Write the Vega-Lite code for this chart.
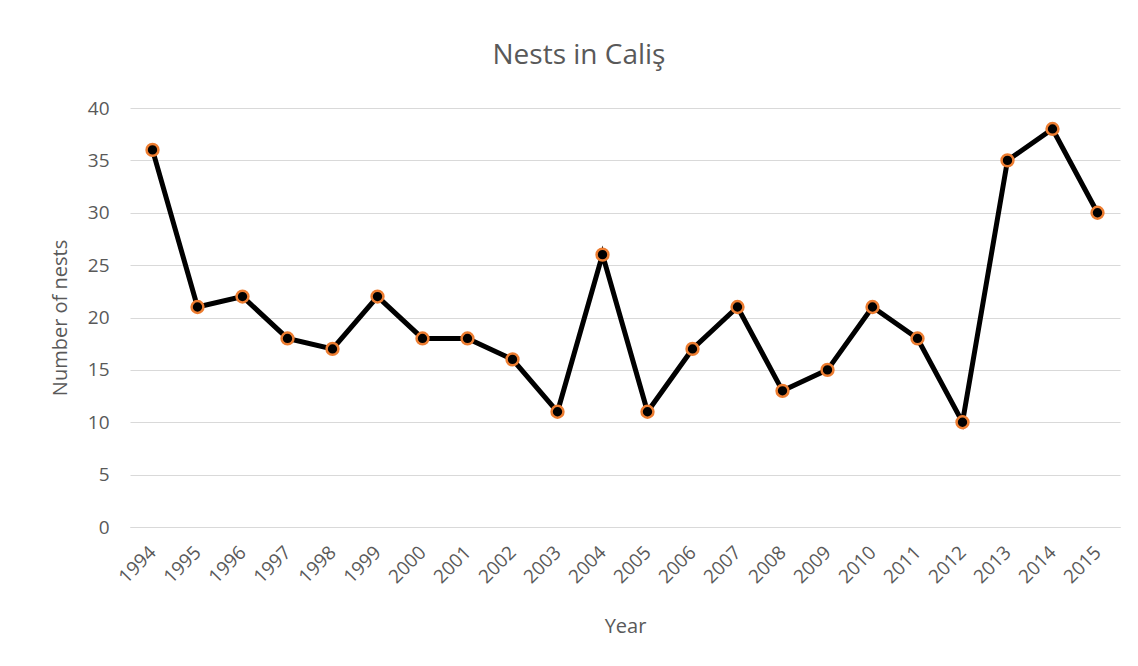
{
  "$schema": "https://vega.github.io/schema/vega-lite/v6.json",
  "width": 990,
  "height": 419,
  "autosize": {"type": "none"},
  "padding": {"left": 130, "top": 108, "right": 18, "bottom": 139},
  "background": "white",
  "title": {
    "text": "Nests in Caliş",
    "frame": "group",
    "anchor": "middle",
    "dx": -46,
    "offset": 7,
    "baseline": "alphabetic",
    "font": "Open Sans",
    "fontSize": 28,
    "fontWeight": "normal",
    "color": "#595959"
  },
  "config": {
    "view": {"stroke": null},
    "font": "Open Sans"
  },
  "data": {
    "values": [
      {"Year": "1994", "Nests": 36},
      {"Year": "1995", "Nests": 21},
      {"Year": "1996", "Nests": 22},
      {"Year": "1997", "Nests": 18},
      {"Year": "1998", "Nests": 17},
      {"Year": "1999", "Nests": 22},
      {"Year": "2000", "Nests": 18},
      {"Year": "2001", "Nests": 18},
      {"Year": "2002", "Nests": 16},
      {"Year": "2003", "Nests": 11},
      {"Year": "2004", "Nests": 26},
      {"Year": "2005", "Nests": 11},
      {"Year": "2006", "Nests": 17},
      {"Year": "2007", "Nests": 21},
      {"Year": "2008", "Nests": 13},
      {"Year": "2009", "Nests": 15},
      {"Year": "2010", "Nests": 21},
      {"Year": "2011", "Nests": 18},
      {"Year": "2012", "Nests": 10},
      {"Year": "2013", "Nests": 35},
      {"Year": "2014", "Nests": 38},
      {"Year": "2015", "Nests": 30}
    ]
  },
  "encoding": {
    "x": {
      "field": "Year",
      "type": "ordinal",
      "scale": {"type": "point", "padding": 0.5},
      "axis": {
        "title": "Year",
        "titleFont": "Open Sans",
        "titleFontSize": 20,
        "titleFontWeight": "normal",
        "titleColor": "#595959",
        "titlePadding": 30,
        "labelAngle": -45,
        "labelAlign": "right",
        "labelBaseline": "middle",
        "labelFont": "Open Sans",
        "labelFontSize": 19,
        "labelColor": "#595959",
        "labelPadding": 22,
        "ticks": false,
        "domain": true,
        "domainColor": "#d9d9d9",
        "grid": false
      }
    },
    "y": {
      "field": "Nests",
      "type": "quantitative",
      "scale": {"domain": [0, 40], "nice": false},
      "axis": {
        "title": "Number of nests",
        "titleFont": "Open Sans",
        "titleFontSize": 20,
        "titleFontWeight": "normal",
        "titleColor": "#595959",
        "titlePadding": 17,
        "values": [0, 5, 10, 15, 20, 25, 30, 35, 40],
        "labelFont": "Open Sans",
        "labelFontSize": 19,
        "labelColor": "#595959",
        "labelPadding": 21,
        "ticks": false,
        "domain": false,
        "grid": true,
        "gridColor": "#d9d9d9",
        "gridWidth": 1
      }
    }
  },
  "layer": [
    {
      "mark": {"type": "line", "color": "black", "strokeWidth": 5}
    },
    {
      "mark": {
        "type": "point",
        "shape": "circle",
        "filled": true,
        "fill": "black",
        "stroke": "#ED7D31",
        "strokeWidth": 2.5,
        "size": 140,
        "opacity": 1
      }
    }
  ]
}
